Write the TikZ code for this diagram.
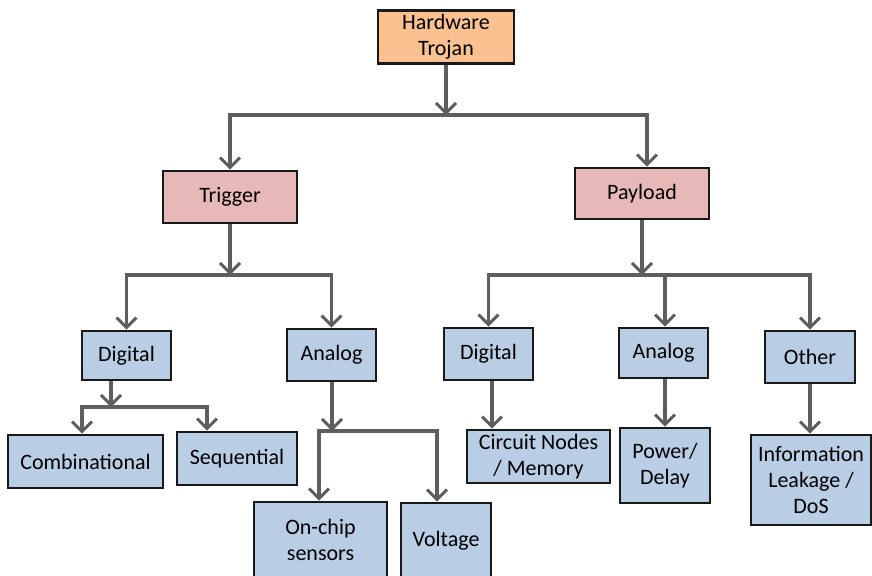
\documentclass[tikz,border=0pt]{standalone}
\usepackage{fontspec}
\setmainfont{Carlito}
\usepackage{xcolor}
\usetikzlibrary{arrows.meta, positioning}

\definecolor{topfill}{HTML}{FAC090}
\definecolor{midfill}{HTML}{E6B9B8}
\definecolor{leaffill}{HTML}{B9CDE5}
\definecolor{wire}{HTML}{5E5E5E}

\begin{document}
\begin{tikzpicture}[
        x=0.5pt, y=-0.5pt,
        font=\fontsize{11}{13}\selectfont,
        every node/.style={align=center},
        box/.style={
            rectangle, draw=black!90, line width=1.35pt,
            inner sep=2pt
        },
        top/.style={box, fill=topfill},
        part/.style={box, fill=midfill},
        leaf/.style={box, fill=leaffill},
        arr/.style={-{Straight Barb[length=5pt,width=10pt,line width=1.5pt]}, line width=1.6pt, wire}
    ]
    \useasboundingbox (0,0) rectangle (872,575);

    % root and the two main parts
    \node[top, minimum width=68pt, minimum height=26pt] (ht) at (446,37) {Hardware\\Trojan};
    \node[part, minimum width=67pt, minimum height=26pt] (trig) at (230,197) {Trigger};
    \node[part, minimum width=67pt, minimum height=25.5pt] (pay) at (642,193.5) {Payload};

    % trigger side
    \node[leaf, minimum width=44.5pt, minimum height=24.5pt] (tdig) at (126.5,355.5) {Digital};
    \node[leaf, minimum width=44.5pt, minimum height=26pt] (tana) at (331.5,355) {Analog};
    \node[leaf, minimum width=77.5pt, minimum height=26.5pt] (comb) at (85.5,461.5) {Combinational};
    \node[leaf, minimum width=60pt, minimum height=26.5pt] (seq) at (237,458.5) {Sequential};
    \node[leaf, minimum width=66.5pt, minimum height=38pt] (chip) at (320.5,540) {On-chip\\sensors};
    \node[leaf, minimum width=45pt, minimum height=38pt] (volt) at (446,541) {Voltage};

    % payload side
    \node[leaf, minimum width=44.5pt, minimum height=26pt] (pdig) at (488.5,354) {Digital};
    \node[leaf, minimum width=44.5pt, minimum height=25pt] (pana) at (663.5,353) {Analog};
    \node[leaf, minimum width=45pt, minimum height=26pt] (oth) at (810,357) {Other};
    \node[leaf, minimum width=71.5pt, minimum height=26.5pt] (circ) at (538.5,456.5) {Circuit Nodes\\/ Memory};
    \node[leaf, minimum width=45pt, minimum height=37.5pt] (pow) at (665,465.5) {Power/\\Delay};
    \node[leaf, minimum width=60pt, minimum height=45pt] (info) at (811,480) {Information\\Leakage /\\DoS};

    % junctions on the bus lines
    \coordinate (j1) at (446,115);
    \coordinate (j2) at (230,275);
    \coordinate (j3) at (642,275);
    \coordinate (j4) at (111,407);
    \coordinate (j5) at (332,431);

    \draw[arr] (ht.south) -- (j1);
    \draw[arr] (j1) -| (trig.north);
    \draw[arr] (j1) -| ([xshift=2.5pt]pay.north);

    \draw[arr] (trig.south) -- (j2);
    \draw[arr] (j2) -| (tdig.north);
    \draw[arr] (j2) -| (tana.north);

    \draw[arr] (pay.south) -- (j3);
    \draw[arr] (j3) -| (pdig.north);
    \draw[arr] (j3) -| ([xshift=0.75pt]pana.north);
    \draw[arr] (j3) -| (oth.north);

    \draw[arr] (tdig.south -| j4) -- (j4);
    \draw[arr] (j4) -| ([xshift=-1.75pt]comb.north);
    \draw[arr] (j4) -| ([xshift=-15pt]seq.north);

    \draw[arr] (tana.south -| j5) -- (j5);
    \draw[arr] (j5) -| ([xshift=-0.75pt]chip.north);
    \draw[arr] (j5) -| ([xshift=-4.5pt]volt.north);

    \draw[arr] ([xshift=1.75pt]pdig.south) -- ([xshift=1.75pt]pdig.south |- circ.north);
    \draw[arr] (pana.south -| pow.north) -- (pow.north);
    \draw[arr] (oth.south) -- (oth.south |- info.north);
\end{tikzpicture}
\end{document}
